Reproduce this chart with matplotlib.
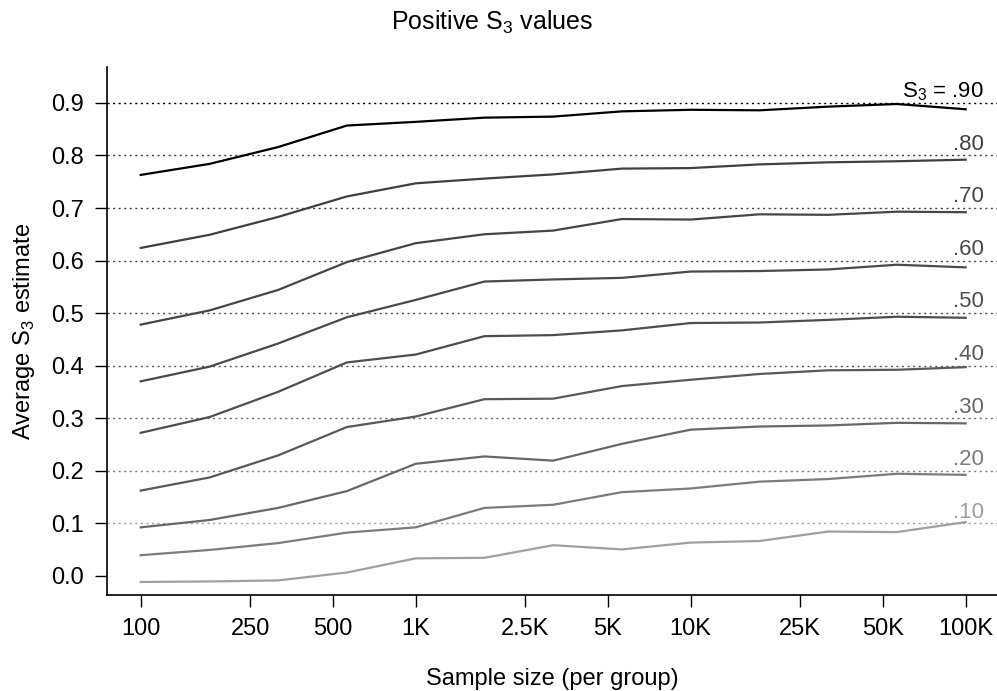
import matplotlib
matplotlib.use('Agg')
import matplotlib.pyplot as plt

plt.rcParams['font.family'] = ['Liberation Sans', 'DejaVu Sans']
plt.rcParams['mathtext.fontset'] = 'custom'
plt.rcParams['mathtext.rm'] = 'Liberation Sans'

# tamaños de muestra (por grupo)
n = [100, 178, 316, 562, 1000, 1778, 3162, 5623, 10000, 17783, 31623, 56234, 100000]

# estimaciones promedio de S3 para cada valor verdadero
s3_10 = [-0.012, -0.011, -0.009, 0.006, 0.033, 0.034, 0.058, 0.050, 0.063, 0.066, 0.084, 0.083, 0.102]
s3_20 = [0.039, 0.049, 0.062, 0.082, 0.092, 0.129, 0.135, 0.159, 0.166, 0.179, 0.184, 0.194, 0.192]
s3_30 = [0.092, 0.106, 0.129, 0.161, 0.213, 0.227, 0.219, 0.251, 0.278, 0.284, 0.286, 0.291, 0.290]
s3_40 = [0.162, 0.187, 0.229, 0.283, 0.303, 0.336, 0.337, 0.361, 0.373, 0.384, 0.391, 0.392, 0.397]
s3_50 = [0.272, 0.302, 0.350, 0.406, 0.421, 0.456, 0.458, 0.467, 0.481, 0.482, 0.487, 0.493, 0.491]
s3_60 = [0.370, 0.398, 0.442, 0.492, 0.525, 0.560, 0.564, 0.567, 0.579, 0.580, 0.583, 0.592, 0.587]
s3_70 = [0.478, 0.505, 0.544, 0.597, 0.633, 0.650, 0.657, 0.679, 0.678, 0.688, 0.687, 0.693, 0.692]
s3_80 = [0.624, 0.649, 0.683, 0.722, 0.747, 0.756, 0.764, 0.775, 0.776, 0.783, 0.787, 0.789, 0.792]
s3_90 = [0.763, 0.784, 0.816, 0.857, 0.864, 0.872, 0.874, 0.884, 0.887, 0.886, 0.893, 0.898, 0.888]

niveles = [0.1, 0.2, 0.3, 0.4, 0.5, 0.6, 0.7, 0.8, 0.9]
series = [s3_10, s3_20, s3_30, s3_40, s3_50, s3_60, s3_70, s3_80, s3_90]
etiquetas = ['.10', '.20', '.30', '.40', '.50', '.60', '.70', '.80', r'S$_{\mathregular{3}}$ = .90']
colores = ['#a0a0a0', '#7c7c7c', '#686868', '#595959', '#4e4e4e', '#4a4a4a', '#464646', '#404040', '#000000']

xticks = [100, 250, 500, 1000, 2500, 5000, 10000, 25000, 50000, 100000]
xticklabels = ['100', '250', '500', '1K', '2.5K', '5K', '10K', '25K', '50K', '100K']
yticks = [0.0, 0.1, 0.2, 0.3, 0.4, 0.5, 0.6, 0.7, 0.8, 0.9]

fig = plt.figure(figsize=(9.97, 6.91), dpi=100)
ax = fig.add_axes([0.1073, 0.139, 0.8927, 0.764])

for nivel, ys, lab, c in zip(niveles, series, etiquetas, colores):
    # linea de referencia punteada
    ax.axhline(nivel, color=c, lw=1.0, ls=(0, (1.5, 2.5)), zorder=1)
    ax.plot(n, ys, color=c, lw=1.6, zorder=3)
    ax.annotate(lab, xy=(0.985, nivel), xycoords=('axes fraction', 'data'),
                xytext=(0, 4), textcoords='offset points',
                ha='right', va='baseline', color=c, fontsize=16)

ax.set_xscale('log')
ax.set_xlim(75.4, 1.3e5)
ax.set_ylim(-0.0367, 0.9684)
ax.set_xticks(xticks)
ax.set_xticklabels(xticklabels)
ax.minorticks_off()
ax.set_yticks(yticks)
ax.set_yticklabels(['%.1f' % v for v in yticks])

ax.tick_params(axis='both', direction='out', length=8.5, width=1.0, labelsize=17, pad=8)
for t, c in zip(ax.yaxis.get_major_ticks(), ['#000000'] + colores):
    t.tick1line.set_color(c)

for s in ['top', 'right']:
    ax.spines[s].set_visible(False)
for s in ['left', 'bottom']:
    ax.spines[s].set_linewidth(1.2)

ax.set_xlabel('Sample size (per group)', fontsize=17, labelpad=20)
ax.set_ylabel(r'Average S$_{\mathregular{3}}$ estimate', fontsize=17, labelpad=10)
fig.text(0.494, 0.967, r'Positive S$_{\mathregular{3}}$ values', ha='center', va='center', fontsize=18)

fig.savefig('out.png', dpi=100)
